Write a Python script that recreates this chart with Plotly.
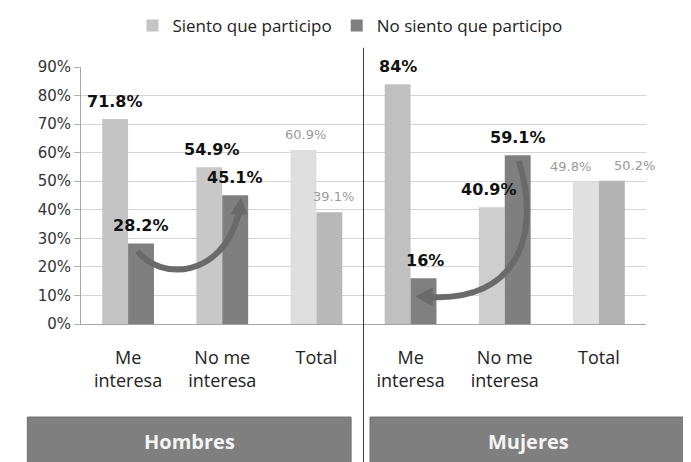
import plotly.graph_objects as go

categories = ['Me<br>interesa', 'No me<br>interesa', 'Total',
              'Me<br>interesa', 'No me<br>interesa', 'Total']
siento = [71.8, 54.9, 60.9, 84, 40.9, 49.8]
no_siento = [28.2, 45.1, 39.1, 16, 59.1, 50.2]
groups = ['Hombres', 'Mujeres']

x = list(range(len(categories)))

light_cols = ['#c4c4c4', '#c8c8c8', '#dedede', '#c0c0c0', '#cecece', '#e0e0e0']
dark_cols = ['#7f7f7f', '#7f7f7f', '#b8b8b8', '#808080', '#7f7f7f', '#b3b3b3']

fig = go.Figure()
fig.add_trace(go.Bar(x=x, y=siento, name='Siento que participo',
                     marker=dict(color=light_cols, line=dict(width=0))))
fig.add_trace(go.Bar(x=x, y=no_siento, name='No siento que participo',
                     marker=dict(color=dark_cols, line=dict(width=0))))

# value labels (totals are drawn small and faint, as in the original)
half = 0.1375
light_dx = [0, 3, 2, 0, -3, -15]
dark_dx = [0, 0, 4, 1, 0, 23]
for i in x:
    is_total = categories[i] == 'Total'
    font = dict(family='DejaVu Sans', size=13, color='#9a9a9a') if is_total \
        else dict(family='DejaVu Sans', size=16, color='#111111', weight='bold')
    for xv, yv, dx in ((i - half, siento[i], light_dx[i]), (i + half, no_siento[i], dark_dx[i])):
        fig.add_annotation(x=xv, y=yv, text=f'{yv:g}%', showarrow=False,
                           xref='x', yref='y', yanchor='bottom', yshift=6, xshift=dx,
                           font=font)

arrow_col = '#6a6a6a'
# Hombres: from "Me interesa" up to "No me interesa"
fig.add_shape(type='path', xref='x', yref='y',
              path='M 0.1,25.5 C 0.35,15 1.0,16 1.177,38.9',
              line=dict(color=arrow_col, width=6))
fig.add_shape(type='path', xref='x', yref='y',
              path='M 1.199,44 L 1.095,38.6 L 1.26,38.6 Z',
              fillcolor=arrow_col, line=dict(color=arrow_col, width=1))
# Mujeres: from "No me interesa" down to "Me interesa"
fig.add_shape(type='path', xref='x', yref='y',
              path='M 4.15,57 C 4.4,30 4.1,8 3.22,9.45',
              line=dict(color=arrow_col, width=6))
fig.add_shape(type='path', xref='x', yref='y',
              path='M 3.06,9.6 L 3.23,12.6 L 3.23,6.4 Z',
              fillcolor=arrow_col, line=dict(color=arrow_col, width=1))

# divider between the two groups
fig.add_shape(type='line', xref='x', yref='paper', x0=2.5, x1=2.5, y0=-0.6, y1=1.075,
              line=dict(color='#3a3a3a', width=1))

# group boxes
for name, (x0, x1) in zip(groups, [(-0.095, 0.478), (0.5115, 1.071)]):
    fig.add_shape(type='rect', xref='paper', yref='paper', x0=x0, x1=x1, y0=-0.553, y1=-0.362,
                  fillcolor='#7f7f7f', line=dict(color='#6f6f6f', width=1))
    fig.add_annotation(x=(x0 + x1) / 2, y=-0.457, xref='paper', yref='paper', text=name,
                       xanchor='center', yanchor='middle', showarrow=False,
                       font=dict(family='Open Sans', size=20, color='#f4f4f4', weight='bold'))

fig.update_layout(
    width=691, height=462,
    margin=dict(l=73, r=53, t=59, b=146, autoexpand=False),
    paper_bgcolor='white', plot_bgcolor='white',
    barmode='group', bargap=0.45, bargroupgap=0,
    showlegend=True,
    legend=dict(orientation='h', x=0.476, xanchor='center', y=1.16, yanchor='middle',
                font=dict(family='Open Sans', size=17, color='#222222'),
                itemwidth=30, traceorder='normal'),
    xaxis=dict(range=[-0.5, 5.5], tickmode='array', tickvals=x, ticktext=categories,
               showgrid=False, zeroline=False, showline=True, linecolor='#a6a6a6', linewidth=1,
               ticks='', ticklabelstandoff=17, automargin=False,
               tickfont=dict(family='Open Sans', size=18, color='#222222')),
    yaxis=dict(range=[0, 90], dtick=10, ticksuffix='%', showgrid=True, gridcolor='#d4d4d4',
               zeroline=False, showline=True, linecolor='#a6a6a6', linewidth=1,
               ticks='outside', ticklen=6, tickcolor='#b0b0b0', automargin=False,
               tickfont=dict(family='DejaVu Sans', size=15, color='#333333')),
)

fig.write_html('out.html')
